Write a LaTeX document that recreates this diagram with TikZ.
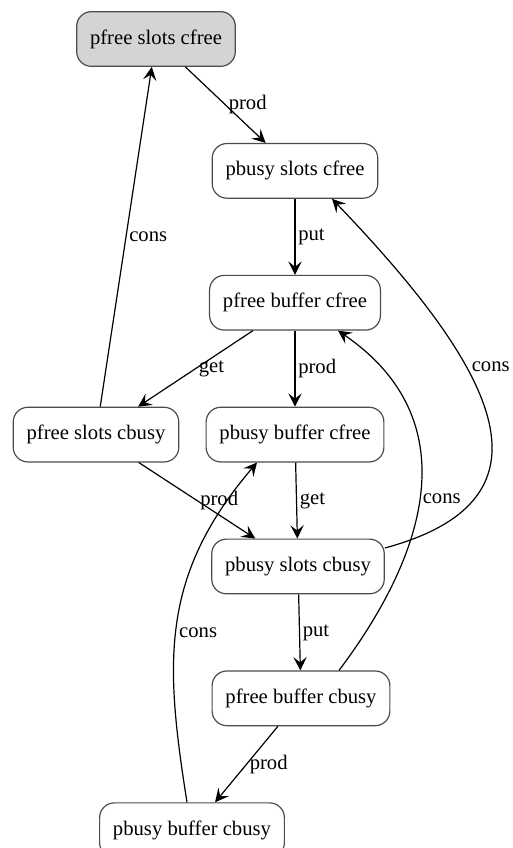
\documentclass[tikz,border=0pt]{standalone}
\usepackage{fontspec}
\setmainfont{Liberation Serif}
\usetikzlibrary{arrows.meta,positioning}

\begin{document}
\begin{tikzpicture}[
  x=0.75pt, y=-0.75pt,
  font=\fontsize{15.5}{18}\selectfont,
  state/.style={draw=black!70, line width=0.9pt, rounded corners=11pt,
                minimum height=41pt, inner xsep=10pt, align=center},
  start/.style={state, fill=black!17},
  lab/.style={anchor=west, inner sep=2pt},
  edge/.style={->, line width=0.9pt},
  >={Stealth[length=10pt, width=10pt, inset=4pt]}]
  \useasboundingbox (0,0) rectangle (512,848);
  \node[start] (fsf) at (156,39) {pfree slots cfree};
  \node[state, below=57pt of fsf, xshift=104.25pt] (bsf) {pbusy slots cfree};
  \node[state, below=57pt of bsf] (fbf) {pfree buffer cfree};
  \node[state, below=57pt of fbf, xshift=-149.25pt] (fsb) {pfree slots cbusy};
  \node[state, below=57pt of fbf] (bbf) {pbusy buffer cfree};
  \node[state, below=57pt of bbf, xshift=2.25pt] (bsb) {pbusy slots cbusy};
  \node[state, below=57pt of bsb, xshift=2.25pt] (fbb) {pfree buffer cbusy};
  \node[state, below=57pt of fbb, xshift=-81.75pt] (bbb) {pbusy buffer cbusy};
  \draw[edge] (fsf) -- node[lab] {prod} (bsf);
  \draw[edge] (bsf) -- node[lab] {put} (fbf);
  \draw[edge] (fbf) -- node[lab] {get} (fsb);
  \draw[edge] (fbf) -- node[lab] {prod} (bbf);
  \draw[edge] (fsb) -- node[lab] {cons} (fsf);
  \draw[edge] (fsb) -- node[lab] {prod} (bsb);
  \draw[edge] (bbf) -- node[lab] {get} (bsb);
  \draw[edge] (bsb) -- node[lab] {put} (fbb);
  \draw[edge] (fbb) -- node[lab] {prod} (bbb);
  % curved back edges
  \draw[edge] (bsb.12) .. controls +(185,-50) and +(158,165)
    .. node[lab, pos=0.63, xshift=2pt] {cons} ([xshift=27.75pt]bsf.south);
  \draw[edge] ([xshift=28.5pt]fbb.north) .. controls +(100,-133) and +(120,82)
    .. node[lab, pos=0.45] {cons} ([xshift=32.25pt]fbf.south);
  \draw[edge] ([xshift=-3.75pt]bbb.north) .. controls +(-22,-139) and +(-97.5,114)
    .. node[lab, pos=0.47] {cons} ([xshift=-28.5pt]bbf.south);
\end{tikzpicture}
\end{document}
